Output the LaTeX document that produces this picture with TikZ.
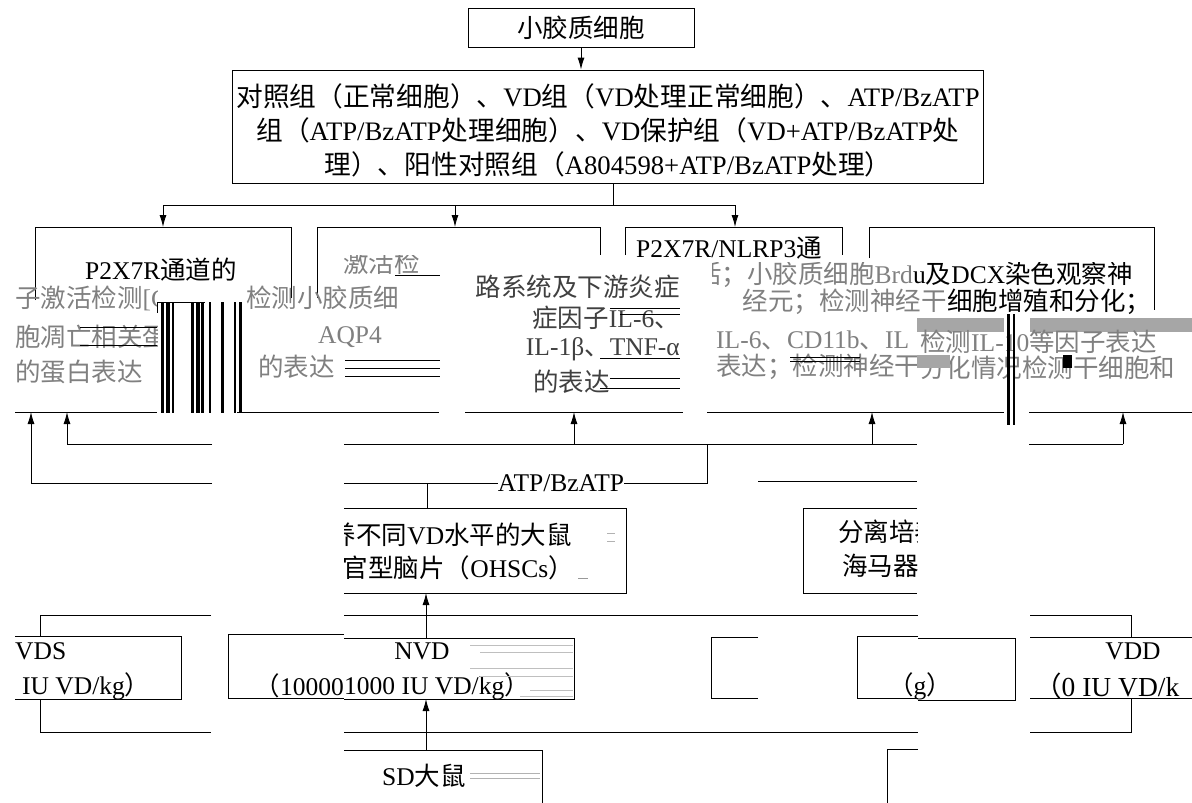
\documentclass[tikz,border=0pt]{standalone}
\usepackage{fontspec}
\setmainfont{Liberation Serif}
\newfontfamily\cjk{Noto Sans CJK SC}
\usetikzlibrary{arrows.meta}
\newcommand\zh[1]{{\cjk #1}}
\begin{document}
\begin{tikzpicture}[x=1pt,y=-1pt,
  ln/.style={line width=0.9pt},
  arr/.style={ln,-{Latex[length=12pt,width=7pt]}},
  txt/.style={inner sep=0pt,font=\fontsize{25.5}{34}\selectfont},
  gtxt/.style={txt,text=black!50},
  tight/.style={text height=18pt,text depth=3pt},
  bar/.style={fill=black},
  gbar/.style={fill=black!35},
]
\useasboundingbox (0,0) rectangle (1192,803);
\fill[white] (0,0) rectangle (1192,803);

% ---------- top ----------
\node[draw,ln,minimum width=226pt,minimum height=39pt,txt] (A) at (581,27.5) {\zh{小胶质细胞}};
\node[draw,ln,minimum width=751pt,minimum height=113pt] (B) at (607.5,126.5) {};
\node[inner sep=0pt,font=\fontsize{26.7}{34}\selectfont,align=center] (Bt) at (608,130) {\zh{对照组（正常细胞）、}VD\zh{组（}VD\zh{处理正常细胞）、}ATP/BzATP\\ \zh{组（}ATP/BzATP\zh{处理细胞）、}VD\zh{保护组（}VD+ATP/BzATP\zh{处}\\ \zh{理）、阳性对照组（}A804598+ATP/BzATP\zh{处理）}};
\draw[arr] (A.south) -- (A.south |- B.north);
\coordinate (J) at (613,205);
\draw[ln] (B.south -| J) -- (J);
\coordinate (b1) at (163,227);
\coordinate (b2) at (455,227);
\coordinate (b3) at (735,227);
\draw[ln] (b1 |- J) -- (b3 |- J);
\draw[arr] (b1 |- J) -- (b1);
\draw[arr] (b2 |- J) -- (b2);
\draw[arr] (b3 |- J) -- (b3);

% ---------- upper row boxes (visible parts) ----------
\draw[ln] (35,300) -- (35,227) -- (291,227) -- (291,298);
\draw[ln] (317,298) -- (317,227) -- (600,227) -- (600,255);
\draw[ln] (625,255) -- (625,227) -- (842,227) -- (842,255);
\draw[ln] (869,258) -- (869,227) -- (1154,227) -- (1154,310);
\begin{scope}
\clip (40,230) rectangle (290,285);
\node[txt] (t1) at (161,270) {P2X7R\zh{通道的}};
\end{scope}
\begin{scope}
\clip (630,230) rectangle (840,262);
\node[txt,anchor=west] (t3) at (636,248) {P2X7R/NLRP3\zh{通}};
\end{scope}

% left fragment tile
\begin{scope}
\clip (15,285) rectangle (157,414);
\node[gtxt,anchor=west] (g1) at (15,298) {\zh{子激活检测}[C};
\node[gtxt,anchor=west] (g2) at (15,337) {\zh{胞凋亡相关蛋}};
\node[gtxt,anchor=west] (g3) at (15,372) {\zh{的蛋白表达}};
\draw[ln] (80,327) -- (157,327);
\draw[ln] (80,345) -- (157,345);
\end{scope}
\draw[ln] (15,412) -- (157,412);
% vertical bars
\foreach \x/\w in {161/3,166/4,172/2,191/3,196/4,201/3,209/2,221/3,234/2,239/3}
  \fill[bar] (\x,302) rectangle ++(\w,111);
\draw[ln] (157,302) -- (205,302);
\draw[ln] (157,302) -- (157,313);

% box2 fragment tile
\begin{scope}
\clip (244,255) rectangle (440,414);
\node[gtxt,anchor=west] (g4) at (343,263) {\zh{激活检}};
\node[gtxt,anchor=west] (g5) at (246,298) {\zh{检测小胶质细}};
\node[gtxt] (g6) at (350,337) {AQP4};
\node[gtxt,anchor=west] (g7) at (258,367) {\zh{的表达}};
\draw[ln] (345,360) -- (440,360);
\draw[ln] (345,368) -- (440,368);
\draw[ln] (345,376) -- (440,376);
\draw[ln] (395,275) -- (440,275);
\end{scope}
\draw[ln] (237,412) -- (439,412);

% big central tile
\begin{scope}
\clip (447,253) rectangle (683,414);
\node[txt,anchor=east,text=black!75] (c1) at (680,287) {\zh{路系统及下游炎症}};
\node[txt,anchor=east,text=black!75] (c2) at (680,318) {\zh{症因子}IL-6\zh{、}};
\node[txt,anchor=east,text=black!75] (c3) at (680,349) {IL-1β\zh{、}TNF-α};
\node[txt,anchor=west,text=black!75] (c4) at (533,382) {\zh{的表达}};
\draw[ln] (610,308) -- (680,308);
\draw[ln] (620,314) -- (680,314);
\draw[ln] (600,358) -- (680,358);
\draw[ln] (610,378) -- (680,378);
\draw[ln] (600,388) -- (680,388);
\end{scope}
\draw[ln] (465,412) -- (683,412);

% right tile
\begin{scope}
\clip (712,262) rectangle (1192,316);
\node[gtxt,tight,anchor=east] (r1a) at (913,276) {\zh{的激活；小胶质细胞}Brd};
\node[txt,tight,anchor=west] (r1b) at (913,276) {u\zh{及}DCX\zh{染色观察神}};
\node[gtxt,tight,anchor=east] (r2a) at (947,303) {\zh{经元；检测神经干}};
\node[txt,tight,anchor=west] (r2b) at (947,303) {\zh{细胞增殖和分化；}};
\end{scope}
\begin{scope}
\clip (712,316) rectangle (917,414);
\node[gtxt,anchor=west] (r3) at (716,340) {IL-6\zh{、}CD11b\zh{、}IL};
\node[gtxt,anchor=west] (r4) at (716,367) {\zh{表达；检测神经干}};
\draw[ln] (790,357) -- (860,357);
\draw[ln] (790,361) -- (860,361);
\end{scope}
\begin{scope}
\clip (917,316) rectangle (1192,414);
\fill[gbar] (917,318) rectangle (1004,332);
\fill[gbar] (1030,318) rectangle (1192,332);
\node[gtxt,anchor=west] (r5) at (920,342) {\zh{检测}IL-10\zh{等因子表达}};
\node[gtxt,anchor=west] (r6) at (920,368) {\zh{分化情况检测干细胞和}};
\fill[gbar] (917,355) rectangle (950,368);
\fill[bar] (1063,355) rectangle (1072,368);
\end{scope}
\fill[bar] (1007,314) rectangle (1010,425);
\fill[bar] (1013,314) rectangle (1015,425);
\draw[ln] (707,412) -- (1004,412);
\draw[ln] (600,412) -- (683,412);
\draw[ln] (1029,412) -- (1192,412);

% ---------- middle connectors ----------
\coordinate (u1) at (31,412);
\coordinate (u2) at (67,412);
\coordinate (u3) at (574,412);
\coordinate (u4) at (872,412);
\coordinate (u5) at (1123,412);
\draw[ln] (212,483) -- (31,483);
\draw[arr] (31,483) -- (u1);
\draw[ln] (212,444) -- (67,444);
\draw[arr] (67,444) -- (u2);
\draw[ln] (344,444) -- (917,444);
\draw[arr] (574,444) -- (u3);
\draw[arr] (872,444) -- (u4);
\draw[ln] (1029,444) -- (1123,444);
\draw[arr] (1123,444) -- (u5);
\node[txt] (atp) at (561,483) {ATP/BzATP};
\draw[ln] (344,483) -- (atp.west);
\draw[ln] (atp.east) -- (707,483) -- (707,444);
\draw[ln] (758,481) -- (917,481);

% OHSCs box
\coordinate (ohT) at (427,508);
\coordinate (ohB) at (426,593);
\draw[ln] (427,483) -- (ohT);
\draw[ln] (344,508) -- (626,508) -- (626,593) -- (344,593);
\begin{scope}
\clip (344,508) rectangle (626,593);
\node[txt,anchor=east] (o1) at (572,535) {\zh{分离培养不同}VD\zh{水平的大鼠}};
\node[txt,anchor=east] (o2) at (574,568) {\zh{器官型脑片（}OHSCs\zh{）}};
\draw[black!30,thin] (607,533) -- (615,533);
\draw[black!30,thin] (607,541) -- (615,541);
\draw[black!40,thin] (578,578) -- (588,578);
\end{scope}
% right isolated box
\draw[ln] (917,508) -- (803,508) -- (803,593) -- (917,593);
\begin{scope}
\clip (803,508) rectangle (917,593);
\node[txt,anchor=west] (s1) at (838,532) {\zh{分离培养}};
\node[txt,anchor=west] (s2) at (842,566) {\zh{海马器官}};
\end{scope}

% ---------- bottom row ----------
\coordinate (nvdT) at (426,638);
\coordinate (nvdB) at (426,699);
\coordinate (sdT) at (426,750);
\draw[arr] (nvdT) -- (ohB);
\draw[arr] (sdT) -- (nvdB);
% brackets
\draw[ln] (211,615) -- (40,615) -- (40,636);
\draw[ln] (40,699) -- (40,732) -- (211,732);
\draw[ln] (344,615) -- (918,615);
\draw[ln] (344,732) -- (918,732);
\draw[ln] (1030,615) -- (1131,615) -- (1131,637);
\draw[ln] (1131,698) -- (1131,732) -- (1030,732);
% VDS box
\draw[ln] (15,636) -- (181,636) -- (181,699) -- (15,699);
\node[txt,anchor=west] (v1) at (15,651) {VDS};
\node[txt,anchor=west] (v2) at (22,686) {IU VD/kg\zh{）}};
% box 10000
\draw[ln] (344,634) -- (228,634) -- (228,698) -- (344,698);
\node[txt,anchor=east] (h1) at (344,686) {\zh{（}10000};
% NVD box
\draw[ln] (344,638) -- (574,638) -- (574,699) -- (344,699);
\node[txt] (n1) at (422,651) {NVD};
\node[txt,anchor=west] (n2) at (344,686) {1000 IU VD/kg\zh{）}};
\foreach \yy/\xa in {645/470,652/480,668/470,676/480,690/530,696/520}
  \draw[black!25,thin] (\xa,\yy) -- (573,\yy);
% partial boxes
\draw[ln] (758,637) -- (711,637) -- (711,698) -- (758,698);
\draw[ln] (918,636) -- (857,636) -- (857,698) -- (918,698);
\draw[ln] (918,638) -- (1015,638) -- (1015,700) -- (918,700);
\node[txt] (gg) at (920,686) {\zh{（}g\zh{）}};
% VDD
\draw[ln] (1030,637) -- (1192,637);
\draw[ln] (1030,698) -- (1192,698);
\node[txt] (d1) at (1133,651) {VDD};
\node[txt,anchor=west,font=\fontsize{27.5}{34}\selectfont] (d2) at (1034,686) {\zh{（}0 IU VD/k};
% SD box
\draw[ln] (344,750) -- (542,750) -- (542,803);
\node[txt] (sd) at (424,776) {SD\zh{大鼠}};
\draw[black!30,thin] (470,773) -- (540,773);
\draw[black!30,thin] (470,778) -- (540,778);
\draw[ln] (918,749) -- (887,749) -- (887,803);
\end{tikzpicture}
\end{document}
